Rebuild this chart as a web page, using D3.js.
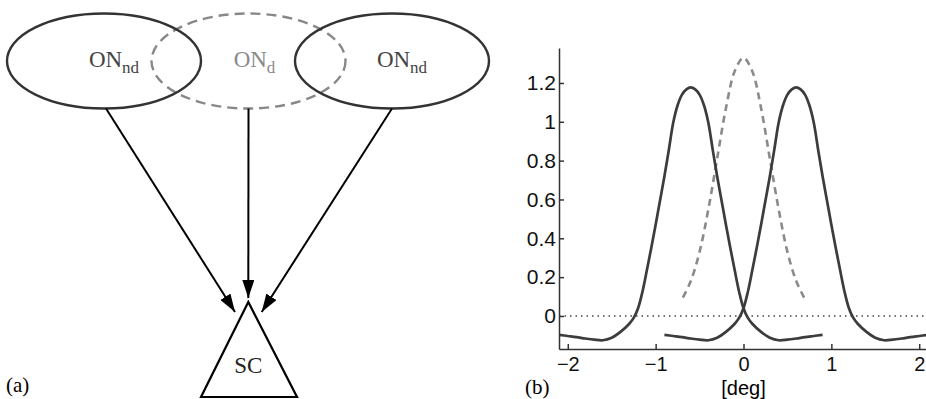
<!DOCTYPE html>
<html>
<head>
<meta charset="utf-8">
<script src="https://cdn.jsdelivr.net/npm/d3@7"></script>
<style>
  html, body { margin: 0; padding: 0; background: #fff; }
  svg { display: block; }
  .serif { font-family: "Liberation Serif", "Times New Roman", serif; }
  .axis text { font-family: "Liberation Sans", Arial, sans-serif; font-size: 21px; fill: #111; }
  .axis.x-axis text { font-size: 20px; }
  .axis path, .axis line { stroke: #333; stroke-width: 1.5; }
</style>
</head>
<body>
<script>
// ---- panel (b) data ----
const yTicks = [0, 0.2, 0.4, 0.6, 0.8, 1, 1.2];
const xTicks = [-2, -1, 0, 1, 2];

// solid curve centred at -0.6 deg
const leftX = [-2.1, -2.0, -1.9, -1.8, -1.7, -1.6, -1.5, -1.4, -1.3, -1.25, -1.2, -1.15, -1.1, -1.05,
    -1.0, -0.95, -0.9, -0.85, -0.8, -0.75, -0.7, -0.65, -0.6, -0.55, -0.5, -0.45, -0.4, -0.35, -0.3,
    -0.25, -0.2, -0.15, -0.1, -0.05, 0.0, 0.05, 0.1, 0.2, 0.3, 0.4, 0.5, 0.6, 0.7, 0.8, 0.9];
const leftY = [-0.097, -0.103, -0.109, -0.116, -0.122, -0.125, -0.112, -0.082, -0.04, -0.01, 0.04, 0.125,
    0.235, 0.35, 0.47, 0.595, 0.72, 0.855, 0.995, 1.085, 1.14, 1.167, 1.177, 1.167, 1.14, 1.085, 0.995, 0.855,
    0.72, 0.595, 0.47, 0.35, 0.235, 0.125, 0.04, -0.01, -0.04, -0.082, -0.112, -0.125, -0.122, -0.116,
    -0.109, -0.103, -0.097];

// solid curve centred at +0.6 deg
const rightX = [-0.9, -0.8, -0.7, -0.6, -0.5, -0.4, -0.3, -0.2, -0.1, -0.05, 0.0, 0.05, 0.1, 0.15,
    0.2, 0.25, 0.3, 0.35, 0.4, 0.45, 0.5, 0.55, 0.6, 0.65, 0.7, 0.75, 0.8, 0.85, 0.9, 0.95, 1.0, 1.05,
    1.1, 1.15, 1.2, 1.25, 1.3, 1.4, 1.5, 1.6, 1.7, 1.8, 1.9, 2.0, 2.1];
const rightY = [-0.097, -0.103, -0.109, -0.116, -0.122, -0.125, -0.112, -0.082, -0.04, -0.01, 0.04, 0.125,
    0.235, 0.35, 0.47, 0.595, 0.72, 0.855, 0.995, 1.085, 1.14, 1.167, 1.177, 1.167, 1.14, 1.085, 0.995, 0.855,
    0.72, 0.595, 0.47, 0.35, 0.235, 0.125, 0.04, -0.01, -0.04, -0.082, -0.112, -0.125, -0.122, -0.116,
    -0.109, -0.103, -0.097];

// dashed curve centred at 0
const dashX = [-0.69, -0.6, -0.5, -0.4, -0.3, -0.2, -0.1, 0, 0.1, 0.2, 0.3, 0.4, 0.5, 0.6, 0.69];
const dashY = [0.095, 0.18, 0.33, 0.55, 0.81, 1.07, 1.26, 1.33, 1.26, 1.07, 0.81, 0.55, 0.33, 0.18, 0.095];

// ---- panel (a) labels ----
const nodeNames = ["ON", "ON", "ON"];
const nodeSubs = ["nd", "d", "nd"];
const targetName = "SC";

const W = 926, H = 399;
const svg = d3.select("body").append("svg").attr("width", W).attr("height", H);

// ===================== panel (a) =====================
const a = svg.append("g");
const ell = { rx: 97, ry: 47.5, cy: 61 };
const nodeCx = [104, 248.5, 392];
const nodeStyle = [
    { stroke: "#333", dash: null, text: "#444" },
    { stroke: "#888", dash: "10,6", text: "#8a8a8a" },
    { stroke: "#333", dash: null, text: "#444" }
];

// draw the dashed one first so solid outlines sit on top
[1, 0, 2].forEach(i => {
    a.append("ellipse")
        .attr("cx", nodeCx[i]).attr("cy", ell.cy)
        .attr("rx", ell.rx).attr("ry", ell.ry)
        .attr("fill", "none")
        .attr("stroke", nodeStyle[i].stroke)
        .attr("stroke-width", 2.4)
        .attr("stroke-dasharray", nodeStyle[i].dash);
});

nodeNames.forEach((name, i) => {
    const t = a.append("text")
        .attr("class", "serif")
        .attr("x", nodeCx[i] + (i === 1 ? 6 : 10))
        .attr("y", 67)
        .attr("text-anchor", "middle")
        .attr("fill", nodeStyle[i].text)
        .style("font-size", "23px");
    t.append("tspan").text(name);
    t.append("tspan").attr("dy", 6).style("font-size", "17px").text(nodeSubs[i]);
});

// arrow head marker
svg.append("defs").append("marker")
    .attr("id", "head")
    .attr("viewBox", "0 0 18 12")
    .attr("refX", 18).attr("refY", 6)
    .attr("markerWidth", 18).attr("markerHeight", 12)
    .attr("markerUnits", "userSpaceOnUse")
    .attr("orient", "auto")
    .append("path")
    .attr("d", "M0,0 L18,6 L0,12 Z")
    .attr("fill", "#000");

const tips = [[235, 312], [248.3, 298], [261.7, 312]];
nodeCx.forEach((cx, i) => {
    a.append("line")
        .attr("x1", cx + (i === 0 ? 2 : 0)).attr("y1", ell.cy + ell.ry)
        .attr("x2", tips[i][0]).attr("y2", tips[i][1])
        .attr("stroke", "#000")
        .attr("stroke-width", 2)
        .attr("marker-end", "url(#head)");
});

// SC triangle
a.append("path")
    .attr("d", "M248.3,302 L201,397 L297,397 Z")
    .attr("fill", "none")
    .attr("stroke", "#000")
    .attr("stroke-width", 2.2)
    .attr("stroke-linejoin", "miter");
a.append("text")
    .attr("class", "serif")
    .attr("x", 248.3).attr("y", 373)
    .attr("text-anchor", "middle")
    .style("font-size", "23px")
    .attr("fill", "#222")
    .text(targetName);

a.append("text")
    .attr("class", "serif")
    .attr("x", 6).attr("y", 392)
    .style("font-size", "21px")
    .text("(a)");

// ===================== panel (b) =====================
const x = d3.scaleLinear().domain([-2.1, 2.1]).range([559, 928]);
const y = d3.scaleLinear().domain([-0.17, 1.38]).range([349, 48]);

const b = svg.append("g");

// zero reference line
b.append("line")
    .attr("x1", x(-2.1)).attr("x2", x(2.1))
    .attr("y1", y(0)).attr("y2", y(0))
    .attr("stroke", "#444")
    .attr("stroke-width", 1.5)
    .attr("stroke-dasharray", "1.5,4");

const line = d3.line()
    .x(d => x(d[0]))
    .y(d => y(d[1]))
    .curve(d3.curveCatmullRom.alpha(0.5));

b.append("path")
    .datum(dashX.map((v, i) => [v, dashY[i]]))
    .attr("d", line)
    .attr("fill", "none")
    .attr("stroke", "#8a8a8a")
    .attr("stroke-width", 2.6)
    .attr("stroke-dasharray", "7,5");

[[leftX, leftY], [rightX, rightY]].forEach(([xs, ys]) => {
    b.append("path")
        .datum(xs.map((v, i) => [v, ys[i]]))
        .attr("d", line)
        .attr("fill", "none")
        .attr("stroke", "#3c3c3c")
        .attr("stroke-width", 2.7);
});

b.append("g")
    .attr("class", "axis x-axis")
    .attr("transform", `translate(0,${y.range()[0]})`)
    .call(d3.axisBottom(x).tickValues(xTicks).tickFormat(d3.format("d"))
        .tickSizeInner(-5).tickSizeOuter(0).tickPadding(8));

b.append("g")
    .attr("class", "axis y-axis")
    .attr("transform", `translate(${x.range()[0]},0)`)
    .call(d3.axisLeft(y).tickValues(yTicks).tickFormat(d3.format("~g"))
        .tickSizeInner(-5).tickSizeOuter(0).tickPadding(3));

b.append("text")
    .attr("x", x(0)).attr("y", 394.5)
    .attr("text-anchor", "middle")
    .style("font-family", "'Liberation Sans', Arial, sans-serif")
    .style("font-size", "20px")
    .text("[deg]");

b.append("text")
    .attr("class", "serif")
    .attr("x", 525).attr("y", 394)
    .style("font-size", "21px")
    .text("(b)");
</script>
</body>
</html>
